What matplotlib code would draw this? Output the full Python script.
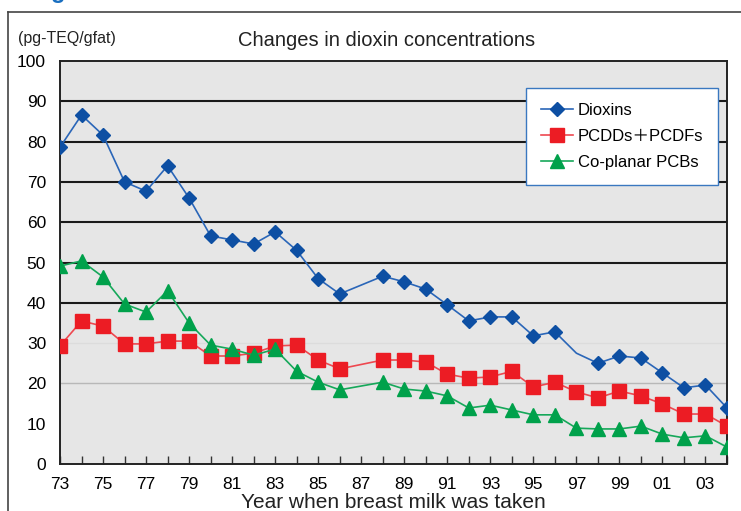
import matplotlib
matplotlib.use("Agg")
import matplotlib.pyplot as plt
from matplotlib.lines import Line2D
import numpy as np

plt.rcParams['font.family'] = ['Liberation Sans', 'Noto Sans CJK JP', 'DejaVu Sans']

# data (1987 has no survey)
years = list(range(1973, 1987)) + list(range(1988, 2005))
dioxins = [78.6, 86.6, 81.6, 70.0, 67.7, 74.0, 66.0, 56.6, 55.6, 54.6, 57.6, 53.0, 46.0, 42.2,
           46.6, 45.2, 43.4, 39.5, 35.5, 36.5, 36.5, 31.8, 32.8, 27.5, 25.0, 26.8, 26.3, 22.6,
           18.9, 19.6, 13.9]
pcdd_pcdf = [29.3, 35.5, 34.2, 29.8, 29.8, 30.5, 30.5, 26.8, 26.8, 27.5, 29.3, 29.5, 25.8, 23.6,
             25.8, 25.8, 25.3, 22.3, 21.3, 21.6, 23.0, 19.1, 20.3, 17.9, 16.4, 18.1, 16.9, 14.9,
             12.4, 12.4, 9.4]
coplanar_pcb = [49.1, 50.4, 46.4, 39.7, 37.7, 43.0, 35.0, 29.5, 28.5, 27.0, 28.5, 23.0, 20.3, 18.4,
                20.3, 18.6, 18.1, 16.9, 13.9, 14.6, 13.4, 12.2, 12.2, 8.9, 8.7, 8.7, 9.4, 7.4,
                6.5, 7.0, 4.2]
labels = ['Dioxins', 'PCDDs\uff0bPCDFs', 'Co-planar PCBs']

fig = plt.figure(figsize=(7.41, 5.11), dpi=100)
ax = fig.add_axes([60/741, 47/511, 667/741, 403/511])
ax.set_facecolor('#e6e6e6')

# horizontal grid: dark for 40..90, light at 20/30
for v in range(40, 100, 10):
    ax.axhline(v, color='#1a1a1a', lw=1.5, zorder=1)
ax.axhline(30, color='#dcdcdc', lw=1.0, zorder=1)
ax.axhline(20, color='#b8b8b8', lw=1.0, zorder=1)

# dioxins 1997 point has no marker in the original
no_mark = years.index(1997)
ax.plot(years, dioxins, color='#2a66b8', lw=1.2, marker='D', ms=7.5,
        mfc='#0d4fa3', mec='#0d4fa3', markevery=[i for i in range(len(years)) if i != no_mark],
        zorder=4, label=labels[0])
ax.plot(years, pcdd_pcdf, color='#ee4850', lw=1.2, marker='s', ms=9.5,
        mfc='#ec1c24', mec='#ec1c24', zorder=3, label=labels[1])
ax.plot(years, coplanar_pcb, color='#16a85a', lw=1.2, marker='^', ms=9.5,
        mfc='#00a14b', mec='#00a14b', zorder=3, label=labels[2])

ax.set_xlim(1973, 2004)
ax.set_ylim(0, 100)
ax.set_yticks(range(0, 101, 10))
ax.set_xticks(range(1973, 2004, 2))
ax.set_xticklabels(['%02d' % (y % 100) for y in range(1973, 2004, 2)])
ax.set_xticks(range(1973, 2005), minor=True)
ax.tick_params(axis='x', which='both', direction='in', length=6, width=1, color='#333333',
               labelsize=12.5, pad=9)
ax.tick_params(axis='y', length=0, labelsize=12.5, pad=10)
for s in ax.spines.values():
    s.set_color('#222222')
    s.set_linewidth(1.4)

ax.set_xlabel('Year when breast milk was taken', fontsize=15, labelpad=1, color='#222222')

leg = ax.legend(loc='upper right', bbox_to_anchor=(0.987, 0.933), fontsize=12, frameon=True,
                fancybox=False, handlelength=1.9, borderpad=0.9, labelspacing=0.65,
                handletextpad=0.3, borderaxespad=0)
leg.get_frame().set_edgecolor('#3a78c0')
leg.get_frame().set_linewidth(1.0)
leg.get_frame().set_facecolor('white')
leg.get_frame().set_alpha(1)

fig.text(18/741, 1 - 38/511, '(pg-TEQ/gfat)', fontsize=11.5, va='center', color='#222222')
fig.text(387/741, 1 - 41/511, 'Changes in dioxin concentrations', fontsize=14.5,
         ha='center', va='center', color='#222222')

# outer frame of the figure box
fig.add_artist(Line2D([8/741, 8/741], [0, 1 - 12/511], color='#444444', lw=1.2))
fig.add_artist(Line2D([8/741, 1], [1 - 12/511, 1 - 12/511], color='#444444', lw=1.2))

# caption cut off at the top edge of the picture
fig.text(30/741, 1 + 8/511, 'Figure 3  Trend of dioxin concentrations in breast milk',
         fontsize=17, fontweight='bold', color='#1a6fc0', va='center')

fig.savefig('out.png', dpi=100, facecolor='white')
